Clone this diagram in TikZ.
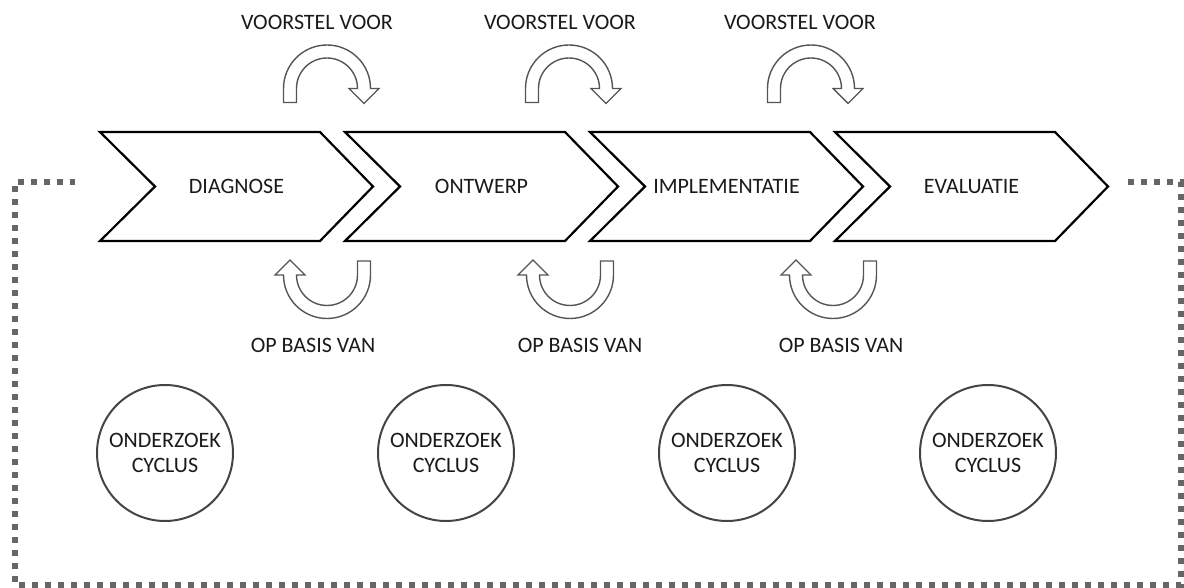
\documentclass[tikz,border=0pt]{standalone}
\usepackage{fontspec}
\setmainfont{Carlito}
\usepackage{tikz}
\usetikzlibrary{positioning}
\definecolor{eText}{HTML}{1A1A1A}
\definecolor{eLine}{HTML}{555555}
\definecolor{eRing}{HTML}{444444}
\definecolor{eDot}{HTML}{666666}
\tikzset{t/.style={font=\fontsize{22}{25}\selectfont, text=eText,
  inner sep=0pt, align=center}}
\tikzset{ch/.style={draw, line width=2.2pt, black, line join=miter}}
\tikzset{cc/.style={circle, draw=eRing, line width=2pt, inner sep=0pt,
  minimum size=136pt}}
\tikzset{dd/.style={draw=eDot, line width=6pt, dash pattern=on 6pt off 7pt}}
\tikzset{bend/.pic={
  \draw[line width=1.4pt, eLine, fill=white, line join=miter]
    (-43.5,14) -- (-43.5,0) arc[start angle=180, end angle=360, radius=43.5]
    -- (52,0) -- (37,15) -- (22,0) -- (30.5,0)
    arc[start angle=360, end angle=180, radius=30.5] -- (-30.5,14) -- cycle;
}}

\begin{document}
\begin{tikzpicture}[x=1pt, y=-1pt]
  \useasboundingbox (0,0) rectangle (1184,588);
  %%
  \draw [dd] (1128,182) -- (1181,182) -- (1181,585) -- (15,585)
    -- (15,182) -- (75,182);
  %%
  \draw [ch] (100,132) -- (320,132) -- (373,186.5) -- (320,241)
    -- (100,241) -- (155,186.5) -- cycle;
  \draw [ch] (345,132) -- (565,132) -- (618,186.5) -- (565,241)
    -- (345,241) -- (400,186.5) -- cycle;
  \draw [ch] (590,132) -- (810,132) -- (863,186.5) -- (810,241)
    -- (590,241) -- (645,186.5) -- cycle;
  \draw [ch] (835,132) -- (1055,132) -- (1108,186.5) -- (1055,241)
    -- (835,241) -- (890,186.5) -- cycle;
  \node (diag) at (236.5,186.5) [t] {DIAGNOSE};
  \node (ontw) at (481.5,186.5) [t] {ONTWERP};
  \node (impl) at (726.5,186.5) [t] {IMPLEMENTATIE};
  \node (eval) at (971.5,186.5) [t] {EVALUATIE};
  %%
  \node (v1) at (317,22) [t] {VOORSTEL VOOR};
  \node (v2) at (560,22) [t] {VOORSTEL VOOR};
  \node (v3) at (800,22) [t] {VOORSTEL VOOR};
  \pic at (327,88.5) {bend};
  \pic at (569,88.5) {bend};
  \pic at (811,88.5) {bend};
  %%
  \pic [rotate=180] at (327,275) {bend};
  \pic [rotate=180] at (570,275) {bend};
  \pic [rotate=180] at (833,275) {bend};
  \node (o1) at (313,345) [t] {OP BASIS VAN};
  \node (o2) at (580,345) [t] {OP BASIS VAN};
  \node (o3) at (841,345) [t] {OP BASIS VAN};
  %%
  \node (c1) at (165,453) [cc, t] {ONDERZOEK\\CYCLUS};
  \node (c2) at (446,453) [cc, t] {ONDERZOEK\\CYCLUS};
  \node (c3) at (727,453) [cc, t] {ONDERZOEK\\CYCLUS};
  \node (c4) at (988,453) [cc, t] {ONDERZOEK\\CYCLUS};
\end{tikzpicture}
\end{document}
